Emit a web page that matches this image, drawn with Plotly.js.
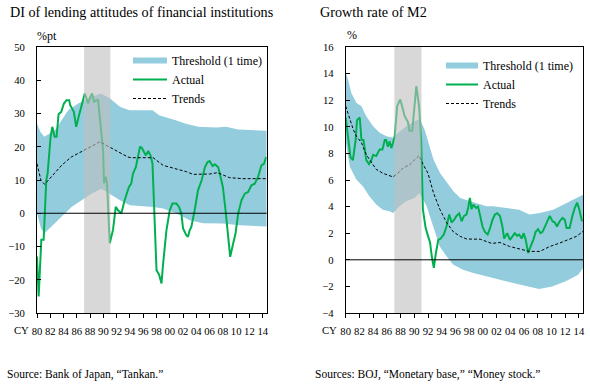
<!DOCTYPE html>
<html>
<head>
<meta charset="utf-8">
<script src="https://cdn.plot.ly/plotly-3.0.1.min.js"></script>
<style>
html,body{margin:0;padding:0;background:#fff;}
#chart{width:590px;height:390px;}
</style>
</head>
<body>
<div id="chart"></div>
<script>
// ---------- DATA ----------
const tickYears = [1980,1982,1984,1986,1988,1990,1992,1994,1996,1998,2000,2002,2004,2006,2008,2010,2012,2014];
const tickLabels = ['80','82','84','86','88','90','92','94','96','98','00','02','04','06','08','10','12','14'];
const shadePeriod = [1987.1, 1991.05];

// Left panel: DI of lending attitudes (%pt)
const diActualYears = [1980.0,1980.25,1980.65,1981.0,1981.4,1981.6,1982.05,1982.3,1982.65,1982.95,1983.25,1983.65,1984.05,1984.45,1984.85,1985.0,1985.55,1985.9,1986.4,1986.8,1987.2,1987.45,1987.7,1987.95,1988.3,1988.6,1988.95,1989.2,1989.5,1989.95,1990.1,1990.35,1990.55,1990.96,1991.45,1991.86,1992.2,1992.7,1993.2,1993.55,1993.85,1994.2,1994.45,1994.9,1995.2,1995.5,1995.75,1996.0,1996.4,1996.75,1997.1,1997.4,1997.75,1998.0,1998.4,1998.75,1999.0,1999.5,2000.0,2000.4,2001.0,2001.4,2001.75,2002.0,2002.5,2002.75,2003.0,2003.25,2003.75,2004.25,2004.8,2005.3,2005.7,2006.0,2006.45,2006.8,2007.3,2007.7,2008.0,2008.4,2008.8,2009.1,2009.55,2009.9,2010.3,2010.8,2011.3,2011.8,2012.3,2012.8,2013.3,2013.8,2014.2,2014.5];
const diActual = [-13,-25,-8,-8,10,12,23,26,23,23,29.8,30.5,33,34,34,32.5,30.5,26,30,33,36,34.5,33,34.6,36,33.5,34,34,28,19,9,11,8.9,-9,-5,1.9,0.9,-0.1,3.9,5.9,7.9,8.9,11.9,13.9,16.9,19.9,19.8,18.9,17.4,18.7,17.4,14.9,-2.1,-17.1,-18.5,-21.1,-15.1,-5.1,0.9,2.9,2.9,1.9,-0.1,-4.6,-6.6,-7.1,-5.1,-4.1,0.9,6.9,9.9,13.9,15.4,15.7,14.2,14.7,13.8,10.9,7.9,0.9,-8.1,-13.1,-9.1,-6.1,-0.1,3.9,5.9,6.4,8.4,8.9,10.9,14.4,14.9,16.9];

const diTrendYears = [1980.0,1980.6,1981.15,1982.65,1983.7,1985.15,1986.7,1988.2,1989.45,1990.7,1991.7,1992.7,1993.7,1994.2,1997.5,1999.0,2001.0,2002.5,2003.5,2006.0,2007.2,2008.0,2009.0,2011.0,2014.6];
const diTrend = [14.9,9.9,8.7,11.9,14.4,16.9,18.4,20.1,21.5,20.1,18.9,17.9,16.9,16.7,16.7,14.4,13.4,12.5,11.7,11.8,12.2,11.6,10.7,10.4,10.4];

const diUpperYears = [1980.0,1980.5,1981.1,1982.7,1983.7,1984.7,1986.2,1988.2,1989.6,1991.0,1992.5,1993.9,1997.4,1998.4,2000.9,2002.3,2004.3,2007.0,2008.5,2010.3,2014.6];
const diUpper = [27,24.5,23,25,28,31,33,35,36,34.5,32,31,31,29.5,28,27,26,25.8,26,25.2,24.8];
const diLowerYears = [1980.0,1980.6,1981.1,1982.6,1984.2,1985.2,1986.7,1988.2,1989.7,1990.96,1992.5,1994.0,1997.5,1999.0,2001.0,2003.0,2005.0,2008.0,2010.5,2014.6];
const diLower = [0,-4.6,-6.1,-3.1,-0.1,1.9,3.9,5.9,7.4,5.9,3.9,2.4,1.9,1.4,-0.1,-2.1,-3.0,-3.1,-3.6,-4.0];

// Right panel: Growth rate of M2 (%)
const m2ActualYears = [1980.0,1980.35,1980.7,1981.05,1981.45,1981.65,1982.05,1982.3,1982.6,1983.0,1983.4,1983.75,1984.0,1984.45,1984.95,1985.35,1985.7,1985.9,1986.15,1986.4,1986.65,1986.9,1987.15,1987.5,1987.95,1988.35,1988.6,1989.05,1989.3,1989.7,1990.05,1990.3,1990.7,1991.0,1991.25,1991.65,1992.0,1992.3,1992.55,1992.85,1993.15,1993.5,1993.85,1994.3,1994.7,1995.1,1995.45,1995.8,1996.15,1996.55,1996.9,1997.25,1997.6,1997.85,1998.1,1998.35,1998.6,1999.0,1999.3,1999.55,1999.95,2000.3,2000.7,2001.0,2001.4,2001.75,2002.1,2002.5,2002.85,2003.1,2003.55,2003.95,2004.35,2004.65,2005.0,2005.3,2005.65,2005.95,2006.25,2006.6,2006.95,2007.35,2007.7,2008.05,2008.4,2008.7,2009.05,2009.35,2009.75,2010.15,2010.5,2010.8,2011.2,2011.6,2011.95,2012.2,2012.65,2013.05,2013.4,2013.75,2014.05,2014.4,2014.55];
const m2Actual = [10.7,9.0,7.7,7.5,9.0,10.5,10.7,9.0,9.0,7.5,7.2,7.5,7.9,7.8,8.3,8.3,9.0,9.0,8.5,8.9,8.4,8.8,9.3,11.55,12.06,11.3,10.8,10.4,9.7,9.7,11.55,13.06,11.55,9.0,3.8,2.4,1.8,1.3,0.26,-0.6,0.5,1.5,1.6,1.9,2.5,3.4,2.8,3.0,3.3,3.5,2.9,3.3,3.4,3.9,4.65,3.8,4.15,3.9,4.0,3.5,2.5,2.1,1.9,2.3,3.0,3.4,3.5,3.3,2.5,1.6,2.0,1.5,1.8,2.0,1.8,1.9,1.6,2.0,1.5,0.5,1.0,1.5,2.1,2.3,2.0,2.1,2.5,2.9,3.3,2.9,2.8,2.5,2.9,3.15,3.0,2.4,2.4,3.3,3.9,4.3,3.8,3.0,2.9];

const m2TrendYears = [1980.0,1980.6,1981.1,1981.55,1982.3,1983.0,1983.75,1984.45,1985.45,1986.4,1986.9,1987.6,1988.35,1989.35,1990.05,1990.7,1991.3,1992.0,1992.8,1993.75,1994.75,1995.7,1996.7,1997.65,1999.6,2000.6,2001.3,2002.5,2003.9,2005.4,2006.8,2008.3,2009.8,2011.2,2012.7,2013.65,2014.6];
const m2Trend = [11.55,10.55,9.8,9.3,8.8,7.9,7.3,6.8,6.5,6.33,6.23,6.5,6.9,7.16,7.54,7.84,7.16,6.5,5.03,3.77,2.77,2.1,1.76,1.56,1.55,1.35,1.23,1.3,1.0,0.81,0.63,0.63,1.01,1.26,1.56,1.76,2.14];

const m2UpperYears = [1980.0,1980.35,1980.8,1981.55,1982.3,1983.0,1984.0,1984.95,1985.95,1986.9,1987.65,1988.85,1990.05,1990.8,1991.5,1992.0,1992.8,1993.75,1994.75,1995.7,1996.7,1998.1,1999.6,2000.5,2001.5,2003.2,2005.3,2006.8,2008.3,2010.25,2012.2,2014.6];
const m2Upper = [14.07,13.56,12.56,11.81,11.55,10.8,10.05,9.55,9.29,9.17,9.55,10.05,10.42,10.6,9.8,9.0,7.54,6.53,5.78,5.15,4.65,4.4,4.15,4.02,4.02,3.9,3.77,3.4,3.52,3.77,4.28,4.9];
const m2LowerYears = [1980.0,1980.6,1981.55,1982.5,1983.45,1984.45,1985.4,1986.4,1986.9,1987.85,1988.8,1990.05,1990.75,1991.8,1992.75,1993.7,1994.7,1995.65,1997.1,1998.6,2000.5,2002.5,2004.4,2006.3,2008.2,2010.1,2012.0,2013.9,2014.6];
const m2Lower = [8.9,7.0,6.03,5.53,4.77,4.15,3.77,3.65,3.52,4.02,4.4,4.65,5.03,4.02,2.52,1.01,0.26,-0.35,-0.75,-1.0,-1.25,-1.5,-1.75,-2.0,-2.2,-2.0,-1.63,-1.12,-0.62];

// ---------- STYLE ----------
const FONT = '"Liberation Serif", "Times New Roman", Times, serif';
const BAND = '#93CDDD';
const GREEN = '#00B050';
const L = 37, R = 7, T = 47, B = 77, W = 590, H = 390;
const PW = W - L - R, PH = H - T - B;
const px = x => (x - L) / PW;
const py = y => (H - B - y) / PH;

function band(upX, upY, loX, loY, xa, ya) {
  return {
    x: upX.concat(loX.slice().reverse()),
    y: upY.concat(loY.slice().reverse()),
    type: 'scatter', mode: 'lines', fill: 'toself', fillcolor: BAND,
    line: {width: 0, color: BAND}, name: 'Threshold (1 time)', showlegend: false,
    xaxis: xa, yaxis: ya, hoverinfo: 'skip'
  };
}
// legend entry for the band, drawn as a thick swatch
function bandKey(xa, ya, leg) {
  return {x: [null], y: [null], type: 'scatter', mode: 'lines', name: 'Threshold (1 time)',
    line: {color: BAND, width: 6}, xaxis: xa, yaxis: ya, legend: leg, hoverinfo: 'skip'};
}
function actual(x, y, xa, ya, leg) {
  return {x: x, y: y, type: 'scatter', mode: 'lines', name: 'Actual',
    line: {color: GREEN, width: 2}, xaxis: xa, yaxis: ya, legend: leg};
}
function trend(x, y, xa, ya, leg) {
  return {x: x, y: y, type: 'scatter', mode: 'lines', name: 'Trends',
    line: {color: '#000', width: 1, dash: '3px,2px'}, xaxis: xa, yaxis: ya, legend: leg};
}

const data = [
  band(diUpperYears, diUpper, diLowerYears, diLower, 'x', 'y'),
  bandKey('x', 'y', 'legend'),
  actual(diActualYears, diActual, 'x', 'y', 'legend'),
  trend(diTrendYears, diTrend, 'x', 'y', 'legend'),
  band(m2UpperYears, m2Upper, m2LowerYears, m2Lower, 'x2', 'y2'),
  bandKey('x2', 'y2', 'legend2'),
  actual(m2ActualYears, m2Actual, 'x2', 'y2', 'legend2'),
  trend(m2TrendYears, m2Trend, 'x2', 'y2', 'legend2')
];

const tickFont = {family: FONT, size: 10.67, color: '#000'};
function xAxis(dom, anchor) {
  return {domain: dom, anchor: anchor, range: [1980, 2014.6], tickmode: 'array',
    tickvals: tickYears, ticktext: tickLabels, tickangle: 0,
    ticks: 'outside', ticklen: 4, tickcolor: '#000', tickwidth: 1,
    showline: true, linecolor: '#000', linewidth: 1, mirror: true,
    showgrid: false, zeroline: false, tickfont: tickFont, ticklabelstandoff: 4, fixedrange: true};
}
function yAxis(range, dtick, anchor) {
  return {domain: [0, 1], anchor: anchor, range: range, dtick: dtick, tick0: 0,
    ticks: 'inside', ticklen: 4, tickcolor: '#000', tickwidth: 1,
    showline: true, linecolor: '#000', linewidth: 1, mirror: true,
    showgrid: false, zeroline: false, tickfont: tickFont, ticklabelstandoff: 9, fixedrange: true};
}

const legendBase = {
  bgcolor: 'rgba(0,0,0,0)', borderwidth: 0, font: {family: FONT, size: 12, color: '#000'},
  traceorder: 'normal', xanchor: 'left', yanchor: 'top', xref: 'paper', yref: 'paper'
};

const annFont = s => ({family: FONT, size: s, color: '#000'});
const ann = (text, x, y, size, anchor) => ({
  text: text, xref: 'paper', yref: 'paper', x: px(x), y: py(y),
  xanchor: anchor || 'left', yanchor: 'middle', showarrow: false, font: annFont(size)
});

const layout = {
  width: W, height: H,
  margin: {l: L, r: R, t: T, b: B, pad: 0},
  paper_bgcolor: '#fff', plot_bgcolor: '#fff',
  font: {family: FONT, color: '#000'},
  showlegend: true,
  xaxis: xAxis([0, px(266.7)], 'y'),
  yaxis: yAxis([-30, 50], 10, 'x'),
  xaxis2: xAxis([px(345.7), 1], 'y2'),
  yaxis2: yAxis([-4, 16], 2, 'x2'),
  legend: Object.assign({}, legendBase, {x: px(128), y: py(46), itemwidth: 34}),
  legend2: Object.assign({}, legendBase, {x: px(441), y: py(51), itemwidth: 32}),
  shapes: [
    {type: 'rect', xref: 'x', yref: 'y domain', x0: shadePeriod[0], x1: shadePeriod[1], y0: 0, y1: 1,
      fillcolor: 'rgba(190,190,190,0.6)', line: {width: 0}, layer: 'above'},
    {type: 'rect', xref: 'x2', yref: 'y2 domain', x0: shadePeriod[0], x1: shadePeriod[1], y0: 0, y1: 1,
      fillcolor: 'rgba(190,190,190,0.6)', line: {width: 0}, layer: 'above'},
    {type: 'line', xref: 'x domain', yref: 'y', x0: 0, x1: 1, y0: 0, y1: 0,
      line: {color: '#000', width: 1}, layer: 'above'},
    {type: 'line', xref: 'x2 domain', yref: 'y2', x0: 0, x1: 1, y0: 0, y1: 0,
      line: {color: '#000', width: 1}, layer: 'above'}
  ],
  annotations: [
    ann('DI of lending attitudes of financial institutions', 8, 12, 14.2),
    ann('Growth rate of M2', 318, 12, 14.2),
    ann('%pt', 35, 36, 12),
    ann('%', 345, 35, 12),
    ann('CY', 12, 330, 10.67),
    ann('CY', 320, 330, 10.67),
    ann('Source: Bank of Japan, \u201cTankan.\u201d', 5, 374, 11.5),
    ann('Sources: BOJ, \u201cMonetary base,\u201d \u201cMoney stock.\u201d', 313, 374, 11.5)
  ]
};

Plotly.newPlot('chart', data, layout, {staticPlot: true, displayModeBar: false});
</script>
</body>
</html>
